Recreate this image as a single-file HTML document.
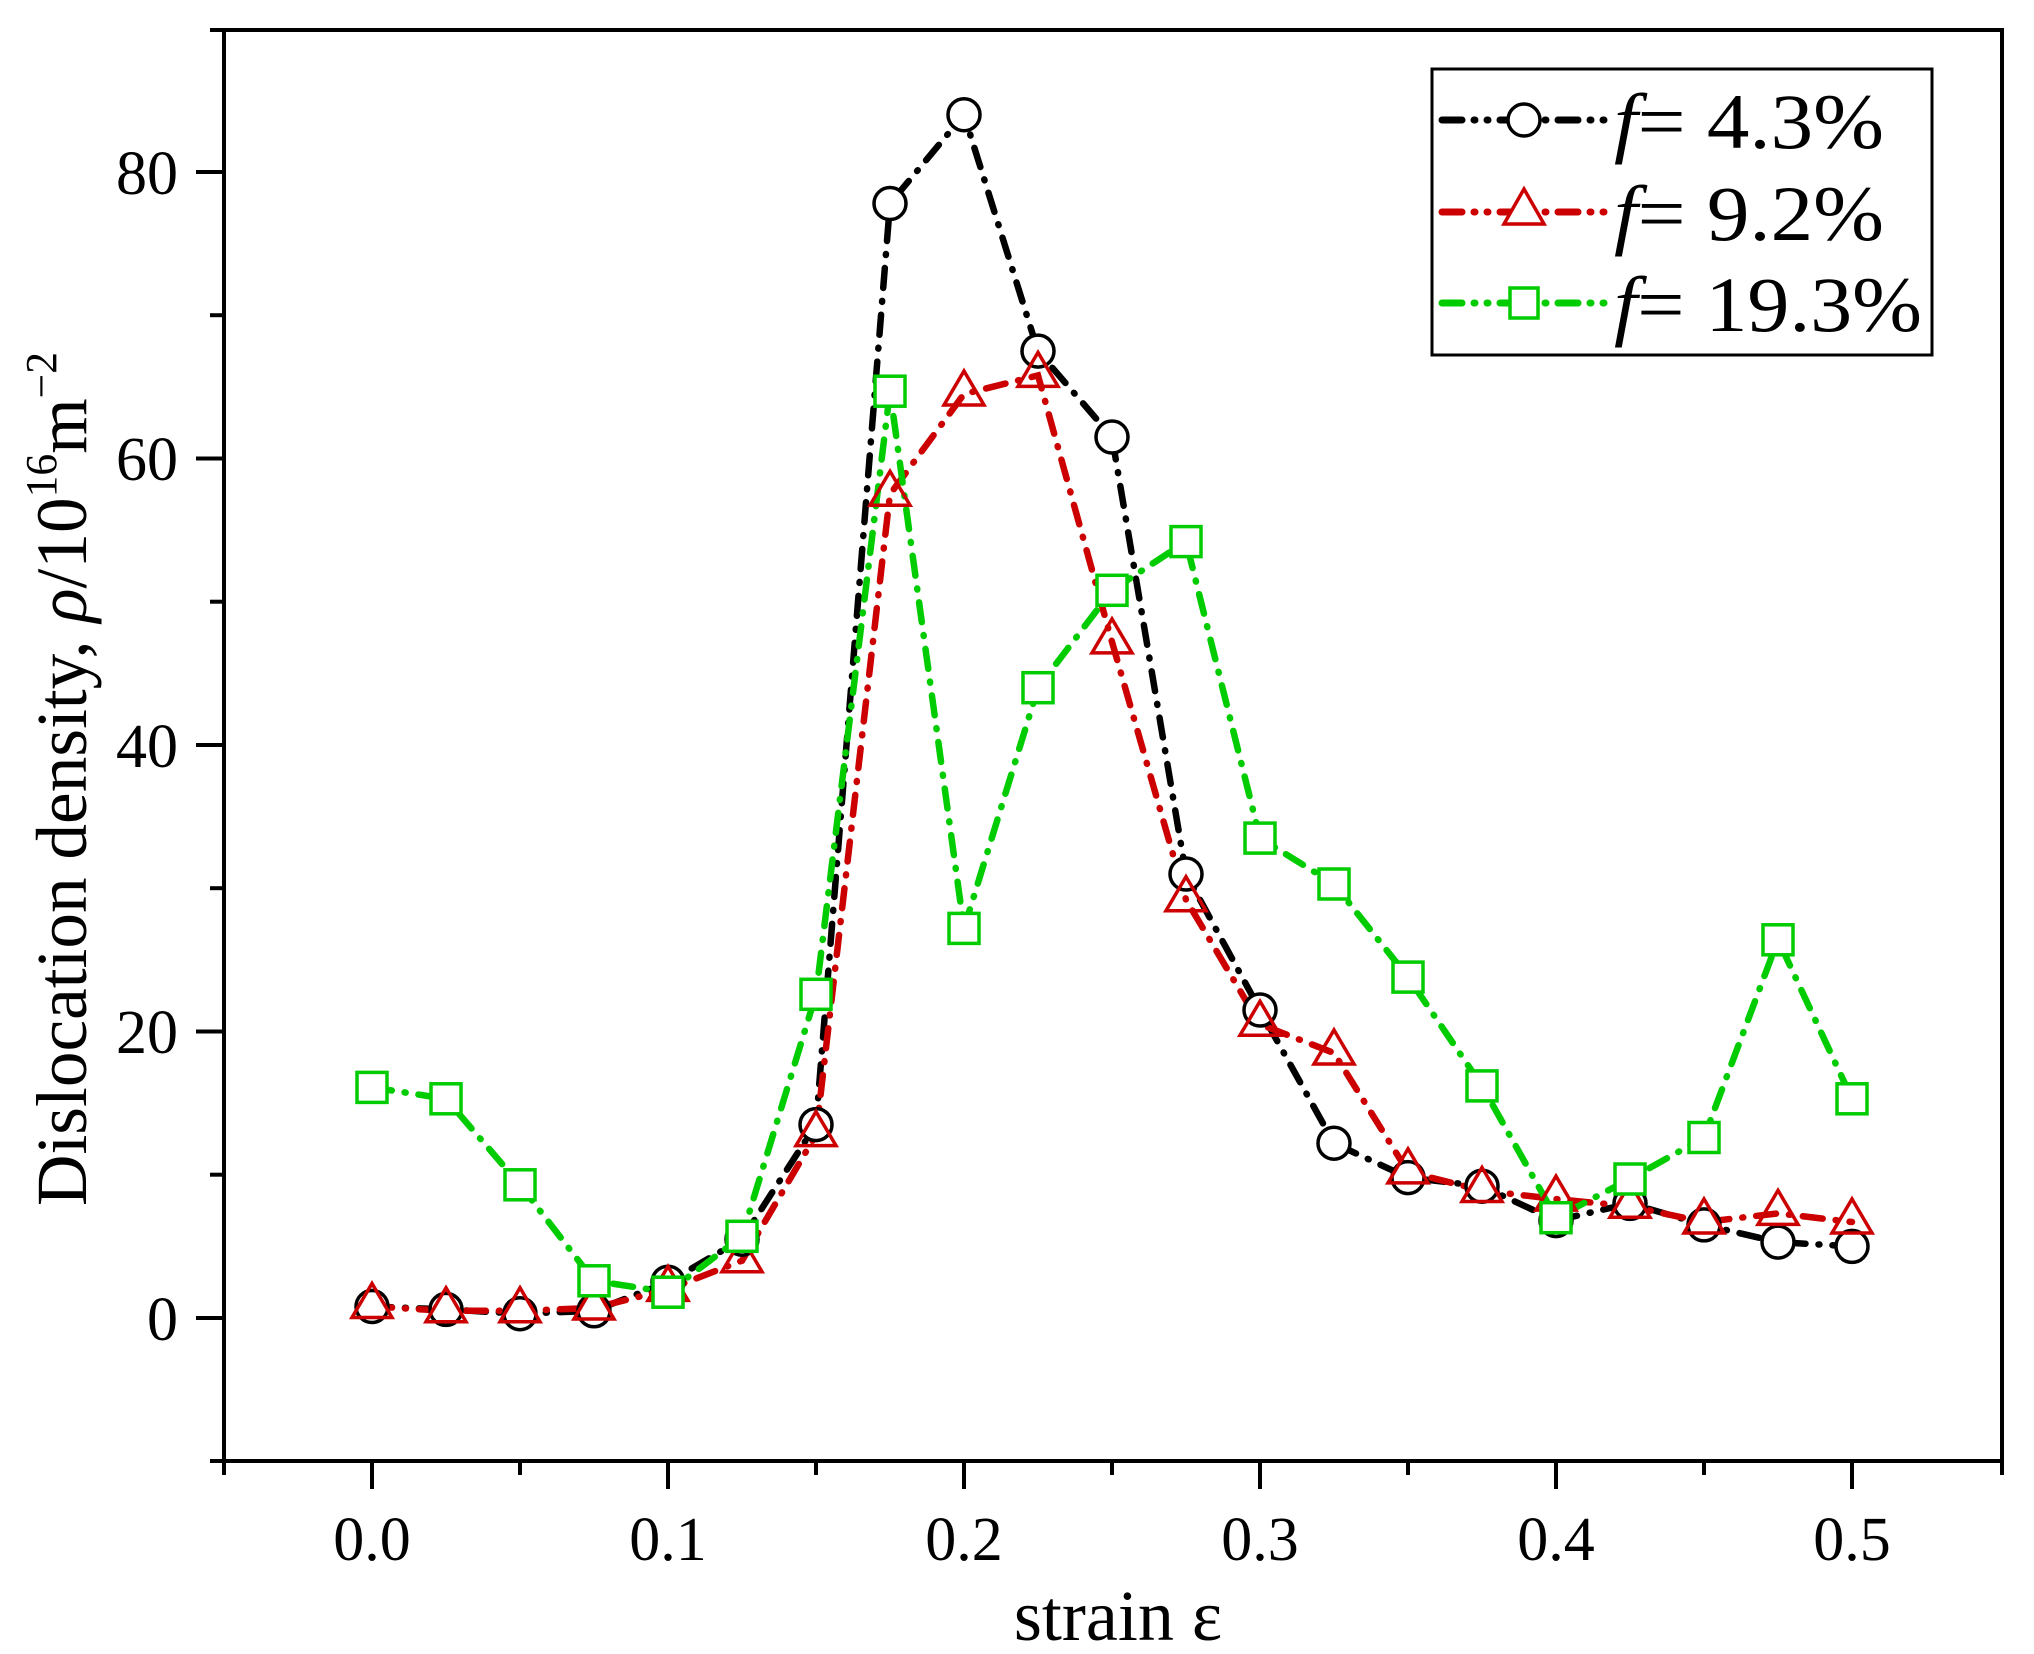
<!DOCTYPE html>
<html><head><meta charset="utf-8"><style>
html,body{margin:0;padding:0;background:#fff;}
svg{display:block;}
text{font-family:"Liberation Serif",serif;fill:#000;}
</style></head><body>
<svg width="2034" height="1654" viewBox="0 0 2034 1654" xmlns="http://www.w3.org/2000/svg">
<rect width="2034" height="1654" fill="#fff"/>
<rect x="224" y="30" width="1778" height="1431" fill="none" stroke="#000" stroke-width="4"/>
<g stroke="#000" stroke-width="4">
<line x1="196" y1="1318" x2="224" y2="1318"/>
<line x1="196" y1="1031.5" x2="224" y2="1031.5"/>
<line x1="196" y1="745" x2="224" y2="745"/>
<line x1="196" y1="458.5" x2="224" y2="458.5"/>
<line x1="196" y1="172" x2="224" y2="172"/>
<line x1="210" y1="1461" x2="224" y2="1461"/>
<line x1="210" y1="1174.7" x2="224" y2="1174.7"/>
<line x1="210" y1="888.2" x2="224" y2="888.2"/>
<line x1="210" y1="601.7" x2="224" y2="601.7"/>
<line x1="210" y1="315.2" x2="224" y2="315.2"/>
<line x1="210" y1="30" x2="224" y2="30"/>
<line x1="372" y1="1461" x2="372" y2="1489"/>
<line x1="668" y1="1461" x2="668" y2="1489"/>
<line x1="964" y1="1461" x2="964" y2="1489"/>
<line x1="1260" y1="1461" x2="1260" y2="1489"/>
<line x1="1556" y1="1461" x2="1556" y2="1489"/>
<line x1="1852" y1="1461" x2="1852" y2="1489"/>
<line x1="224" y1="1461" x2="224" y2="1475"/>
<line x1="520" y1="1461" x2="520" y2="1475"/>
<line x1="816" y1="1461" x2="816" y2="1475"/>
<line x1="1112" y1="1461" x2="1112" y2="1475"/>
<line x1="1408" y1="1461" x2="1408" y2="1475"/>
<line x1="1704" y1="1461" x2="1704" y2="1475"/>
<line x1="2002" y1="1461" x2="2002" y2="1475"/>
</g>
<g font-size="62" text-anchor="end">
<text x="178" y="1340">0</text>
<text x="178" y="1053">20</text>
<text x="178" y="767">40</text>
<text x="178" y="480">60</text>
<text x="178" y="194">80</text>
</g>
<g font-size="62" text-anchor="middle">
<text x="372" y="1560">0.0</text>
<text x="668" y="1560">0.1</text>
<text x="964" y="1560">0.2</text>
<text x="1260" y="1560">0.3</text>
<text x="1556" y="1560">0.4</text>
<text x="1852" y="1560">0.5</text>
</g>
<text x="1118" y="1640" font-size="72" text-anchor="middle">strain ε</text>
<text transform="translate(86,779) rotate(-90)" font-size="72" text-anchor="middle" textLength="854" lengthAdjust="spacingAndGlyphs">Dislocation density, <tspan font-style="italic">ρ</tspan>/10<tspan font-size="44" dy="-30">16</tspan><tspan dy="30">m</tspan><tspan font-size="44" dy="-30">−2</tspan></text>

<polyline fill="none" stroke="#000" stroke-width="6.5" stroke-linecap="round" stroke-dasharray="20 13 1 13"
points="372,1306.5 446,1309.4 520,1313.7 594,1310.8 668,1282.2 742,1239.2 816,1124.6 890,203.5 964,114.7 1038,351.1 1112,437 1186,874 1260,1010 1334,1143.2 1408,1177.6 1482,1186.2 1556,1220.6 1630,1203.4 1704,1224.9 1778,1242.1 1852,1246.4"/>
<polyline fill="none" stroke="#cc0000" stroke-width="6.5" stroke-linecap="round" stroke-dasharray="20 13 1 13"
points="372,1306.5 446,1310.8 520,1310.8 594,1308 668,1289.4 742,1260.7 816,1134.6 890,494.3 964,394 1038,375.4 1112,641.9 1186,899.7 1260,1024.3 1334,1053 1408,1171.9 1482,1190.5 1556,1199.1 1630,1206.3 1704,1222 1778,1213.4 1852,1222"/>
<polyline fill="none" stroke="#00cc00" stroke-width="6.5" stroke-linecap="round" stroke-dasharray="20 13 1 13"
points="372,1087.4 446,1098.8 520,1184.8 594,1280.8 668,1292.2 742,1236.3 816,994.3 890,391.2 964,928.4 1038,687.7 1112,590.3 1186,541.6 1260,838.1 1334,884 1408,977.1 1482,1085.9 1556,1217.7 1630,1179 1704,1137.5 1778,939.8 1852,1098.8"/>

<g fill="#fff" stroke="#000" stroke-width="3.5">
<circle cx="372" cy="1306.5" r="16"/><circle cx="446" cy="1309.4" r="16"/><circle cx="520" cy="1313.7" r="16"/><circle cx="594" cy="1310.8" r="16"/><circle cx="668" cy="1282.2" r="16"/><circle cx="742" cy="1239.2" r="16"/><circle cx="816" cy="1124.6" r="16"/><circle cx="890" cy="203.5" r="16"/><circle cx="964" cy="114.7" r="16"/><circle cx="1038" cy="351.1" r="16"/><circle cx="1112" cy="437" r="16"/><circle cx="1186" cy="874" r="16"/><circle cx="1260" cy="1010" r="16"/><circle cx="1334" cy="1143.2" r="16"/><circle cx="1408" cy="1177.6" r="16"/><circle cx="1482" cy="1186.2" r="16"/><circle cx="1556" cy="1220.6" r="16"/><circle cx="1630" cy="1203.4" r="16"/><circle cx="1704" cy="1224.9" r="16"/><circle cx="1778" cy="1242.1" r="16"/><circle cx="1852" cy="1246.4" r="16"/>
</g>
<g fill="none" stroke="#cc0000" stroke-width="3.5">
<path d="M372,1306.5 m0,-23 l20,34 h-40 z"/><path d="M446,1310.8 m0,-23 l20,34 h-40 z"/><path d="M520,1310.8 m0,-23 l20,34 h-40 z"/><path d="M594,1308 m0,-23 l20,34 h-40 z"/><path d="M668,1289.4 m0,-23 l20,34 h-40 z"/><path d="M742,1260.7 m0,-23 l20,34 h-40 z"/><path d="M816,1134.6 m0,-23 l20,34 h-40 z"/><path d="M890,494.3 m0,-23 l20,34 h-40 z"/><path d="M964,394 m0,-23 l20,34 h-40 z"/><path d="M1038,375.4 m0,-23 l20,34 h-40 z"/><path d="M1112,641.9 m0,-23 l20,34 h-40 z"/><path d="M1186,899.7 m0,-23 l20,34 h-40 z"/><path d="M1260,1024.3 m0,-23 l20,34 h-40 z"/><path d="M1334,1053 m0,-23 l20,34 h-40 z"/><path d="M1408,1171.9 m0,-23 l20,34 h-40 z"/><path d="M1482,1190.5 m0,-23 l20,34 h-40 z"/><path d="M1556,1199.1 m0,-23 l20,34 h-40 z"/><path d="M1630,1206.3 m0,-23 l20,34 h-40 z"/><path d="M1704,1222 m0,-23 l20,34 h-40 z"/><path d="M1778,1213.4 m0,-23 l20,34 h-40 z"/><path d="M1852,1222 m0,-23 l20,34 h-40 z"/>
</g>
<g fill="#fff" stroke="#00cc00" stroke-width="3.5">
<rect x="357" y="1072.4" width="30" height="30"/><rect x="431" y="1083.8" width="30" height="30"/><rect x="505" y="1169.8" width="30" height="30"/><rect x="579" y="1265.8" width="30" height="30"/><rect x="653" y="1277.2" width="30" height="30"/><rect x="727" y="1221.3" width="30" height="30"/><rect x="801" y="979.3" width="30" height="30"/><rect x="875" y="376.2" width="30" height="30"/><rect x="949" y="913.4" width="30" height="30"/><rect x="1023" y="672.7" width="30" height="30"/><rect x="1097" y="575.3" width="30" height="30"/><rect x="1171" y="526.6" width="30" height="30"/><rect x="1245" y="823.1" width="30" height="30"/><rect x="1319" y="869" width="30" height="30"/><rect x="1393" y="962.1" width="30" height="30"/><rect x="1467" y="1070.9" width="30" height="30"/><rect x="1541" y="1202.7" width="30" height="30"/><rect x="1615" y="1164" width="30" height="30"/><rect x="1689" y="1122.5" width="30" height="30"/><rect x="1763" y="924.8" width="30" height="30"/><rect x="1837" y="1083.8" width="30" height="30"/>
</g>

<g transform="translate(-8,0)">
<rect x="1440" y="69" width="500" height="286" fill="#fff" stroke="#000" stroke-width="3"/>
<g stroke-width="7" stroke-linecap="round" fill="none">
<line x1="1450" y1="120" x2="1616" y2="120" stroke="#000" stroke-dasharray="20 12 1 12 1 12"/>
<line x1="1450" y1="212" x2="1616" y2="212" stroke="#cc0000" stroke-dasharray="20 12 1 12 1 12"/>
<line x1="1450" y1="303" x2="1616" y2="303" stroke="#00cc00" stroke-dasharray="20 12 1 12 1 12"/>
</g>
<circle cx="1532" cy="120" r="16" fill="#fff" stroke="#000" stroke-width="3.5"/>
<path d="M1532,189 l20,35 h-40 z" fill="#fff" stroke="#cc0000" stroke-width="3.5"/>
<rect x="1518" y="288" width="28" height="30" fill="#fff" stroke="#00cc00" stroke-width="3.5"/>
<g font-size="78">
<text x="1622" y="148" textLength="270" lengthAdjust="spacingAndGlyphs"><tspan font-style="italic">f</tspan>= 4.3%</text>
<text x="1622" y="240" textLength="270" lengthAdjust="spacingAndGlyphs"><tspan font-style="italic">f</tspan>= 9.2%</text>
<text x="1622" y="331" textLength="308" lengthAdjust="spacingAndGlyphs"><tspan font-style="italic">f</tspan>= 19.3%</text>
</g>
</g>
</svg>
</body></html>
